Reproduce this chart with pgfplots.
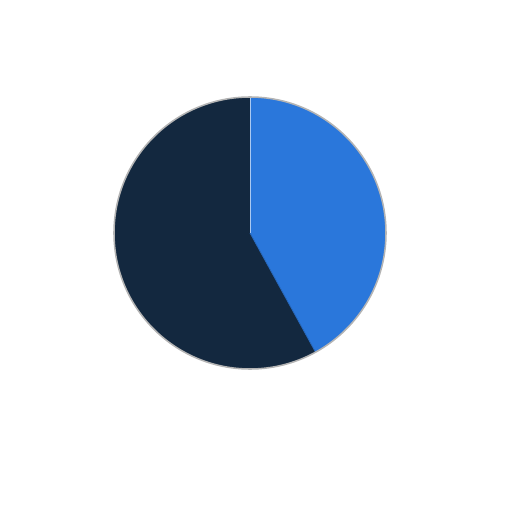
\documentclass[border=0pt]{standalone}
\usepackage{pgfplots}
\usepackage{pgfplotstable}
\pgfplotsset{compat=1.18}

\definecolor{sliceblue}{HTML}{2A77DB}
\definecolor{slicedark}{HTML}{13283F}
\definecolor{rimgrey}{HTML}{B4B4B4}

% share of each slice, in percent
\pgfplotstableread{
label value
A 42
B 58
}\piedata

\pgfplotstablegetelem{0}{value}\of\piedata
\pgfmathsetmacro\angA{90-360*\pgfplotsretval/100}

\begin{document}
\begin{tikzpicture}
\begin{axis}[
  width=7cm, height=7cm, scale only axis,
  xmin=0, xmax=512, ymin=0, ymax=512,
  hide axis, clip=false]
  \path (axis cs:0,0) rectangle (axis cs:512,512);
  % slices, clockwise from twelve o'clock
  \fill[sliceblue] (axis cs:250,279) -- (axis cs:250,415)
    arc[start angle=90, end angle=\angA, radius=136] -- cycle;
  \fill[slicedark] (axis cs:250,279) -- ++(axis direction cs:{136*cos(\angA)},{136*sin(\angA)})
    arc[start angle=\angA, end angle=-270, radius=136] -- cycle;
  \draw[white!60!sliceblue, line width=0.3pt] (axis cs:250,279) -- (axis cs:250,415);
  \draw[sliceblue!80!slicedark, line width=0.3pt] (axis cs:250,279) -- ++(axis direction cs:{136*cos(\angA)},{136*sin(\angA)});
  \draw[rimgrey, line width=0.6pt] (axis cs:250,279) circle[radius=136];
\end{axis}
\end{tikzpicture}
\end{document}
